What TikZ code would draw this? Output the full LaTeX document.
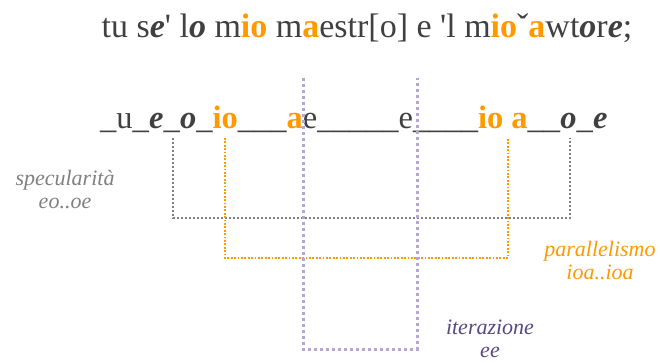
\documentclass[tikz,border=0pt]{standalone}
\usepackage{fontspec}
\setmainfont{Liberation Serif}
\usepackage{tikz}
\usetikzlibrary{positioning, calc}
\definecolor{textgray}{RGB}{64,64,64}
\definecolor{vowelorange}{RGB}{255,153,0}
\definecolor{specgray}{RGB}{128,128,128}
\definecolor{iterlilac}{RGB}{180,167,214}
\definecolor{iterpurple}{RGB}{88,72,128}

% stressed / marked vowels
\newcommand{\vorange}[1]{\textcolor{vowelorange}{\textbf{#1}}}
\newcommand{\vdark}[1]{\textbf{\textit{#1}}}
\newcommand{\apo}{\textquotesingle}

\begin{document}
\begin{tikzpicture}[x=1pt, y=-1pt,
    verse/.style={inner sep=0pt, text=textgray},
    gloss/.style={inner sep=0pt, align=center, font=\fontsize{22}{23}\selectfont\itshape},
    specline/.style={specgray, line width=2pt, dash pattern=on 2pt off 2pt},
    paraline/.style={vowelorange, line width=1.8pt, dash pattern=on 1.8pt off 1.6pt},
    iterline/.style={iterlilac, line width=3pt, dash pattern=on 3pt off 3pt}]
    \useasboundingbox (0,0) rectangle (660,363);

    % Verse line
    \node[verse, anchor=base, font=\fontsize{34}{40}\selectfont] (verse) at (367,38)
        {tu s\vdark{e}\apo{} l\vdark{o} m\vorange{io} m\vorange{a}estr[o] e \apo l m\vorange{io}ˇ\vorange{a}wt\vdark{o}r\vdark{e};};

    % Vowel skeleton
    \node[verse, anchor=base west, font=\fontsize{32.5}{38}\selectfont] (skeleton) at (100,129)
        {\_u\_\vdark{e}\_\vdark{o}\_\vorange{io}\_\_\_\vorange{a}e\_\_\_\_\_e\_\_\_\_\vorange{io} \vorange{a}\_\_\vdark{o}\_\vdark{e}};

    % Bracket ends
    \coordinate (specL) at (173,138);
    \coordinate (specR) at (570,138);
    \coordinate (paraL) at (225,138);
    \coordinate (paraR) at (508,138);
    \coordinate (iterL) at (303,78);
    \coordinate (iterR) at (417,78);

    % Specularity (gray)
    \draw[specline] (specL) -- ++(0,80) -| (specR);
    % Parallelism (orange)
    \draw[paraline] (paraL) -- ++(0,120) -| (paraR);
    % Iteration (lilac)
    \draw[iterline] (iterL) -- ++(0,271) -| (iterR);

    % Labels
    \node[gloss, text=specgray] (speclabel) at (65,190) {specularità\\eo..oe};
    \node[gloss, text=vowelorange] (paralabel) at (600,261) {parallelismo\\ioa..ioa};
    \node[gloss, text=iterpurple] (iterlabel) at (490,339) {iterazione\\ee};
\end{tikzpicture}
\end{document}
